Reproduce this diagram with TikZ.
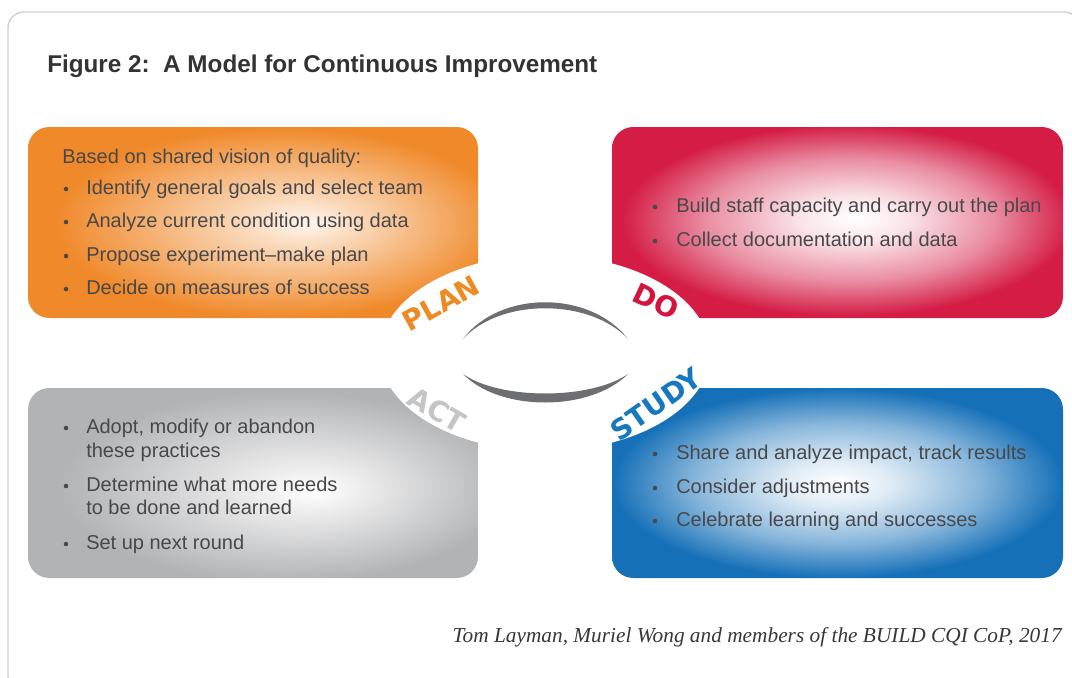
\documentclass[tikz,border=0pt]{standalone}
\usepackage{fontspec}
\setmainfont{Liberation Sans}
\newfontfamily\lblfont{DejaVu Sans}
\newfontfamily\capfont{Liberation Serif}
\definecolor{planorange}{HTML}{F0892A}
\definecolor{doRed}{HTML}{D41C45}
\definecolor{actGray}{HTML}{B2B3B5}
\definecolor{studyBlue}{HTML}{1570B8}
\definecolor{planLbl}{HTML}{EE8A23}
\definecolor{doLbl}{HTML}{D2143F}
\definecolor{actLbl}{HTML}{C4C5C7}
\definecolor{studyLbl}{HTML}{1678BE}
\definecolor{arcgray}{HTML}{6D6E71}
\definecolor{txtgray}{HTML}{48484A}
\definecolor{framegray}{HTML}{D2D2D2}
\colorlet{planIn}{white!92!planorange}
\colorlet{planMid}{white!62!planorange}
\colorlet{doIn}{white}
\colorlet{doMid}{white!88!doRed}
\colorlet{doOut}{white!50!doRed}
\colorlet{actIn}{white}
\colorlet{actMid}{white!60!actGray}
\colorlet{studyIn}{white}
\colorlet{studyMid}{white!86!studyBlue}
\colorlet{studyOut}{white!48!studyBlue}
\pgfdeclareradialshading{planshade}{\pgfpoint{6bp}{0bp}}{color(0bp)=(planIn); color(8bp)=(planMid); color(25bp)=(planorange); color(50bp)=(planorange)}
\pgfdeclareradialshading{doshade}{\pgfpoint{2bp}{1bp}}{color(0bp)=(doIn); color(6bp)=(doMid); color(16bp)=(doOut); color(25bp)=(doRed); color(50bp)=(doRed)}
\pgfdeclareradialshading{actshade}{\pgfpoint{7bp}{-2bp}}{color(0bp)=(actIn); color(10bp)=(actMid); color(25bp)=(actGray); color(50bp)=(actGray)}
\pgfdeclareradialshading{studyshade}{\pgfpoint{0bp}{0bp}}{color(0bp)=(studyIn); color(6bp)=(studyMid); color(16bp)=(studyOut); color(25bp)=(studyBlue); color(50bp)=(studyBlue)}
\tikzset{
  itemtext/.style={anchor=base west, inner sep=0pt, text=txtgray, font=\fontsize{15}{18}\selectfont},
  bulletdot/.style={circle, fill=txtgray, inner sep=0pt, minimum size=3.4pt},
  phase/.style={inner sep=0pt, font=\lblfont\bfseries\fontsize{21}{21}\selectfont},
  card/.style={rounded corners=16pt}
}
\begin{document}
\begin{tikzpicture}[x=0.75pt,y=-0.75pt]
\useasboundingbox (0,0) rectangle (1072,678);
\fill[white] (0,0) rectangle (1072,678);
\begin{scope}
\clip (0,0) rectangle (1072,678);
\draw[framegray, line width=1.1pt, rounded corners=12pt] (8,12) rectangle (1080,692);
\end{scope}
% title
\node[anchor=base west, inner sep=0pt, text=black!80, font=\bfseries\fontsize{18.2}{22}\selectfont] (title) at (47,72) {Figure 2:\ \ A Model for Continuous Improvement};
% cards
\path[card, shading=planshade] (28,127) rectangle (478,318);
\path[card, shading=doshade] (612,127) rectangle (1063,318);
\path[card, shading=actshade] (28,388) rectangle (478,578);
\path[card, shading=studyshade] (612,388) rectangle (1063,578);
% central white disc
\fill[white] (545,353) ellipse [x radius=165, y radius=98];
% crescents
\fill[arcgray] (463,339) .. controls (500,290) and (590,290) .. (628,339) .. controls (590,298) and (500,298) .. cycle;
\fill[arcgray] (463,374) .. controls (500,412) and (590,412) .. (628,374) .. controls (590,400) and (500,400) .. cycle;
% phase labels
\node[phase, text=planLbl, rotate=29] (plan) at (441,303) {PLAN};
\node[phase, text=doLbl, rotate=-25] (do) at (656,301) {DO};
\node[phase, text=actLbl, rotate=-30] (act) at (437,410) {ACT};
\node[phase, text=studyLbl, rotate=35] (study) at (656,404) {STUDY};
% PLAN text
\node[itemtext] (p0) at (62,163) {Based on shared vision of quality:};
\node[itemtext] (p1) at (86,194) {Identify general goals and select team};
\node[itemtext] (p2) at (86,227) {Analyze current condition using data};
\node[itemtext] (p3) at (86,261) {Propose experiment--make plan};
\node[itemtext] (p4) at (86,294) {Decide on measures of success};
\foreach \yy/\nm in {189/pb1,222/pb2,256/pb3,289/pb4} \node[bulletdot] (\nm) at (66,\yy) {};
% DO text
\node[itemtext] (d1) at (676,212) {Build staff capacity and carry out the plan};
\node[itemtext] (d2) at (676,246) {Collect documentation and data};
\foreach \yy/\nm in {207/db1,241/db2} \node[bulletdot] (\nm) at (655,\yy) {};
% ACT text
\node[itemtext] (a1) at (86,433) {Adopt, modify or abandon};
\node[itemtext] (a1b) at (86,457) {these practices};
\node[itemtext] (a2) at (86,491) {Determine what more needs};
\node[itemtext] (a2b) at (86,514) {to be done and learned};
\node[itemtext] (a3) at (86,549) {Set up next round};
\foreach \yy/\nm in {428/ab1,486/ab2,544/ab3} \node[bulletdot] (\nm) at (66,\yy) {};
% STUDY text
\node[itemtext] (s1) at (676,459) {Share and analyze impact, track results};
\node[itemtext] (s2) at (676,493) {Consider adjustments};
\node[itemtext] (s3) at (676,526) {Celebrate learning and successes};
\foreach \yy/\nm in {454/sb1,488/sb2,521/sb3} \node[bulletdot] (\nm) at (655,\yy) {};
% caption
\node[anchor=base east, inner sep=0pt, text=black!78, font=\capfont\itshape\fontsize{16}{19}\selectfont] (caption) at (1062,642) {Tom Layman, Muriel Wong and members of the BUILD CQI CoP, 2017};
\end{tikzpicture}
\end{document}
